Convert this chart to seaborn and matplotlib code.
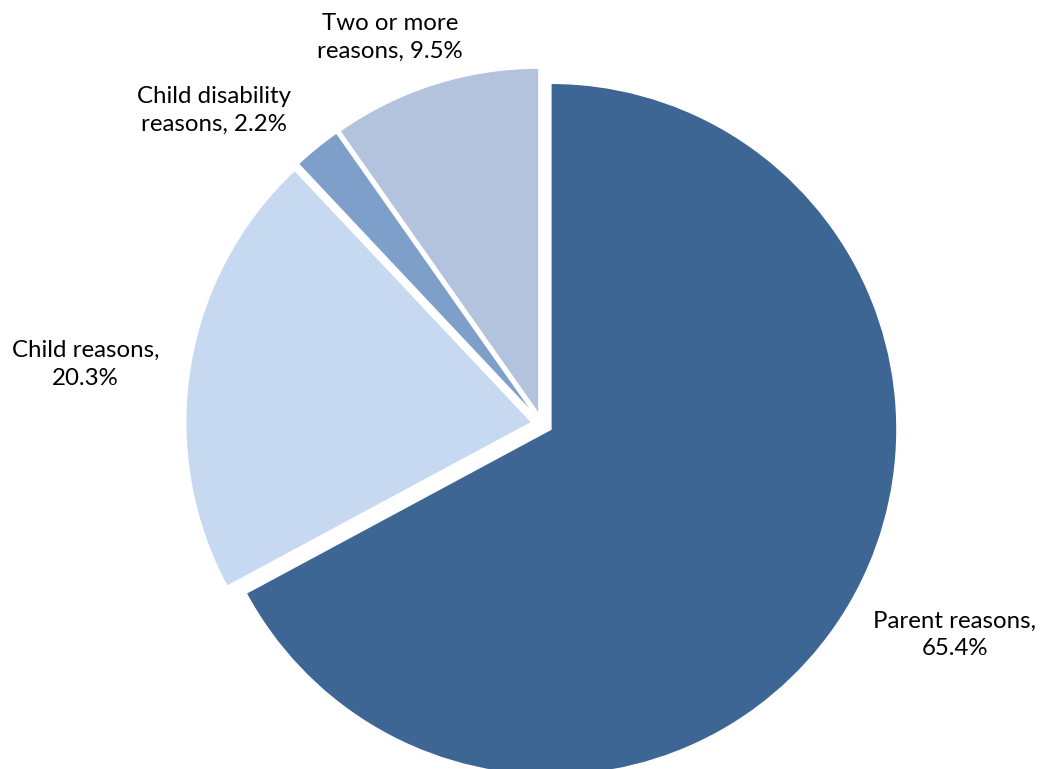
import numpy as np
import matplotlib
matplotlib.use("Agg")
import matplotlib.pyplot as plt
import seaborn as sns

sns.set_theme(style="white")
plt.rcParams['font.family'] = ['Lato', 'DejaVu Sans']

categories = ["Parent reasons", "Child reasons", "Child disability reasons", "Two or more reasons"]
values = [65.4, 20.3, 2.2, 9.5]
label_texts = ["Parent reasons,\n65.4%", "Child reasons,\n20.3%", "Child disability\nreasons, 2.2%", "Two or more\nreasons, 9.5%"]
colors = ["#3E6695", "#C6D9F0", "#7F9FCB", "#B4C3DD"]

# label placement (radial distance, angular nudge in degrees)
label_dist = [1.34, 1.33, 1.31, 1.20]
label_nudge = [3.8, 1.8, 7.1, 3.9]

W, H = 1044, 769
fig = plt.figure(figsize=(W / 100, H / 100), dpi=100)
ax = fig.add_axes([0, 0, 1, 1])

cx, cy, r = 542, 424, 346
wedges, _ = ax.pie(values, colors=colors, startangle=90,
                   counterclock=False, explode=[0.03] * 4,
                   wedgeprops=dict(edgecolor="white", linewidth=1.0))
for w, txt, d, nud in zip(wedges, label_texts, label_dist, label_nudge):
    ang = np.deg2rad((w.theta1 + w.theta2) / 2 + nud)
    ax.text(d * np.cos(ang), d * np.sin(ang), txt, ha="center", va="center",
            multialignment="center", fontsize=17.3, linespacing=1.4, color="#000000")

ax.set_aspect("auto")
ax.set_xlim(-cx / r, (W - cx) / r)
ax.set_ylim(-(H - cy) / r, cy / r)
ax.axis("off")
fig.savefig("out.png", dpi=100, facecolor="white")
